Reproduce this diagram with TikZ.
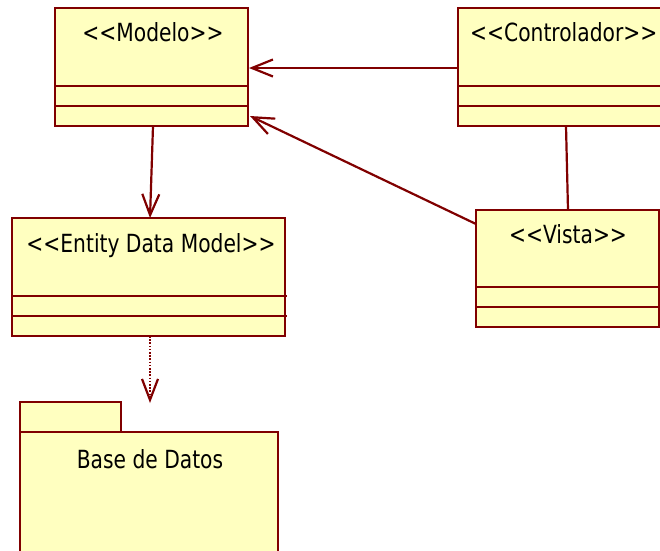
\documentclass[tikz,border=0pt]{standalone}
\usepackage{graphicx}
\usepackage{fontspec}
\setmainfont{DejaVu Sans}[Ligatures=NoCommon]
\usetikzlibrary{arrows.meta,calc}
\definecolor{umlfill}{HTML}{FFFFC0}
\definecolor{umlline}{HTML}{800000}
\newcommand\nrwtext[1]{\scalebox{0.81}[1]{#1}}
\begin{document}
\begin{tikzpicture}[x=1pt,y=-1pt,
  umlbox/.style={draw=umlline,fill=umlfill,line width=2.6pt,anchor=north west,inner sep=0pt,outer sep=0pt},
  lbl/.style={font=\fontsize{25}{30}\selectfont,text=black,inner sep=0pt,anchor=base},
  compart/.style={draw=umlline,line width=2.6pt},
  conn/.style={draw=umlline,line width=2.2pt},
  openhead/.style={-{Straight Barb[length=21pt,width=17pt]}},
  dotline/.style={dash pattern=on 1.6pt off 1.6pt}]
\useasboundingbox (0,0) rectangle (660,550);
\clip (0,0) rectangle (660,550);
% classes
\node[umlbox,minimum width=193pt,minimum height=118pt] (modelo) at (55,8) {};
\node[umlbox,minimum width=240pt,minimum height=118pt] (ctrl) at (458,8) {};
\node[umlbox,minimum width=273pt,minimum height=118pt] (entity) at (12,218) {};
\node[umlbox,minimum width=183pt,minimum height=117pt] (vista) at (476,210) {};
% compartments
\draw[compart] ($(modelo.north west)+(0,78)$) -- ($(modelo.north east)+(0,78)$);
\draw[compart] ($(modelo.north west)+(0,98)$) -- ($(modelo.north east)+(0,98)$);
\draw[compart] ($(ctrl.north west)+(0,78)$) -- ($(ctrl.north east)+(0,78)$);
\draw[compart] ($(ctrl.north west)+(0,98)$) -- ($(ctrl.north east)+(0,98)$);
\draw[compart] ($(entity.north west)+(0,78)$) -- ($(entity.north east)+(2,78)$);
\draw[compart] ($(entity.north west)+(0,98)$) -- ($(entity.north east)+(2,98)$);
\draw[compart] ($(vista.north west)+(0,77)$) -- ($(vista.north east)+(0,77)$);
\draw[compart] ($(vista.north west)+(0,97)$) -- ($(vista.north east)+(0,97)$);
% package
\node[umlbox,minimum width=101pt,minimum height=30pt] (dbtab) at (20,402) {};
\node[umlbox,minimum width=258pt,minimum height=140pt] (db) at (20,432) {};
% labels
\node[lbl] (tmodelo) at (153,41) {\nrwtext{<{}<Modelo>{}>}};
\node[lbl,anchor=base west] (tctrl) at (470,41) {\nrwtext{<{}<Controlador>{}>}};
\node[lbl] (tentity) at (151,252) {\nrwtext{<{}<Entity Data Model>{}>}};
\node[lbl] (tvista) at (568,243) {\nrwtext{<{}<Vista>{}>}};
\node[lbl] (tdb) at (150,468) {\nrwtext{Base de Datos}};
% connectors
\draw[conn,openhead] ($(ctrl.north west)+(0,60)$) -- ($(modelo.north east)+(1,60)$);
\draw[conn,openhead] ($(vista.north west)+(0,14)$) -- ($(modelo.north east)+(2,108)$);
\draw[conn] ($(ctrl.south west)+(108,0)$) -- ($(vista.north west)+(92,0)$);
\draw[conn,openhead] ($(modelo.south west)+(98,0)$) -- ($(entity.north west)+(138,0)$);
\coordinate (dbtip) at (150,403);
\draw[conn,dotline,-{Straight Barb[length=21pt,width=16pt,sep=0pt]}] ($(entity.south west)+(138,0)$) -- (dbtip);
\end{tikzpicture}
\end{document}
